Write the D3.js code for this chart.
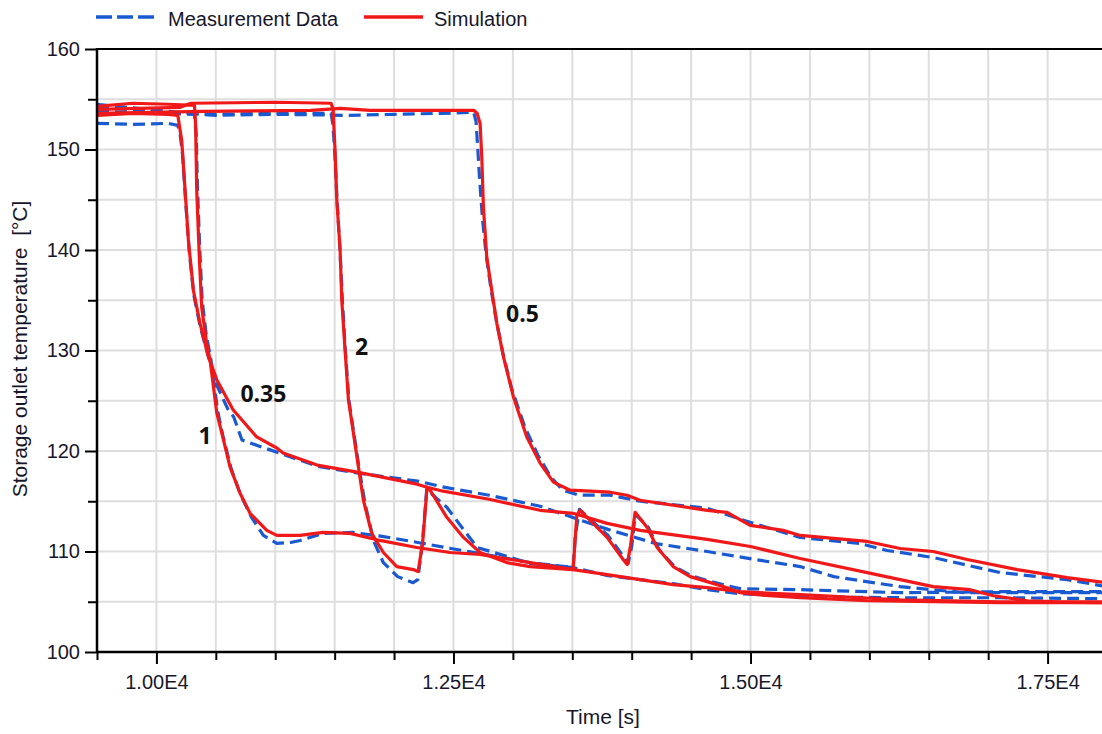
<!DOCTYPE html>
<html>
<head>
<meta charset="utf-8">
<script src="https://cdn.jsdelivr.net/npm/d3@7"></script>
<style>
  html, body { margin: 0; padding: 0; background: #fff; overflow: hidden; }
  svg { display: block; }
</style>
</head>
<body>
<svg id="chart" width="1102" height="734"></svg>
<script>
// ---- Data: [time in s, storage outlet temperature in °C] ----
// Simulation runs, labelled by flow ratio
const sim035 = [[9500,153.4],[9800,153.6],[10100,153.5],[10180,153.4],[10213,150.9],[10241,146.0],[10269,141.0],[10311,136.0],[10367,132.7],[10437,129.4],[10508,127.1],[10645,124.1],[10844,121.4],[11013,120.3],[11066,119.8],[11352,118.6],[11689,117.9],[12194,116.7],[12278,116.4],[12413,116.0],[12800,115.2],[13229,114.1],[13507,113.8],[13793,112.8],[14071,112.1],[14635,111.2],[15000,110.5],[15418,109.3],[15982,107.9],[16537,106.5],[16849,106.2],[17043,105.6],[17329,105.1],[17600,105.0],[18000,105.0]];
const sim1 = [[9500,154.3],[9800,154.6],[10100,154.5],[10320,154.4],[10330,152.5],[10339,146.0],[10361,139.3],[10381,134.3],[10423,130.7],[10451,129.1],[10508,123.8],[10550,121.8],[10620,118.4],[10704,115.8],[10788,113.8],[10929,112.1],[11013,111.6],[11209,111.6],[11402,111.9],[11630,111.8],[11882,111.1],[12191,110.4],[12472,109.9],[12724,109.7],[13145,108.9],[13507,108.2],[13522,110.8],[13538,113.6],[13566,114.1],[13793,111.4],[13928,109.2],[13962,108.7],[13990,110.6],[14029,113.9],[14130,112.4],[14214,110.4],[14349,108.5],[14492,107.5],[14635,107.0],[14803,106.4],[14913,105.9],[15056,105.7],[15418,105.4],[15982,105.1],[17101,104.9],[18000,104.9]];
const sim2 = [[9500,154.0],[10200,154.2],[10290,154.6],[11000,154.7],[11470,154.6],[11487,154.0],[11503,150.0],[11518,145.0],[11546,140.0],[11560,135.0],[11588,130.0],[11616,125.1],[11658,121.8],[11700,118.4],[11742,115.1],[11812,111.8],[11910,109.9],[12023,108.5],[12163,108.2],[12202,108.0],[12240,110.8],[12278,116.4],[12303,116.1],[12444,113.4],[12584,111.4],[12724,109.9],[12949,108.9],[13145,108.5],[13507,108.2],[13793,107.7],[14071,107.2],[14349,106.7],[14635,106.4],[14913,106.0],[15418,105.7],[16260,105.2],[17101,105.0],[18000,104.9]];
const sim05 = [[9500,153.6],[10400,153.8],[11300,153.9],[11550,154.1],[11800,153.9],[12670,153.9],[12699,153.6],[12724,152.6],[12738,149.3],[12752,144.3],[12780,139.3],[12822,136.0],[12865,132.7],[12920,129.4],[13004,125.4],[13117,121.4],[13229,118.8],[13341,116.9],[13482,116.1],[13818,115.9],[13961,115.6],[14071,115.1],[14635,114.1],[14803,113.9],[14997,112.6],[15275,112.1],[15418,111.6],[15982,111.0],[16260,110.3],[16537,110.0],[16824,109.2],[17245,108.2],[17665,107.4],[18000,106.9]];

// Measured runs
const meas035 = [[9500,152.6],[9800,152.5],[10100,152.6],[10180,152.4],[10200,151.5],[10220,149.5],[10245,145.0],[10275,140.0],[10315,135.5],[10370,132.3],[10440,129.3],[10510,126.5],[10600,124.2],[10650,123.4],[10720,121.1],[10860,120.5],[11060,119.7],[11350,118.5],[11700,117.8],[12200,117.0],[12420,116.4],[12800,115.6],[13230,114.5],[13500,113.4],[13800,112.2],[14200,110.8],[14635,110.0],[15040,109.2],[15418,108.5],[15700,107.5],[16260,106.5],[16800,105.9],[17400,105.9],[18000,105.9]];
const meas1 = [[9500,153.8],[10000,153.6],[10320,153.5],[10335,151.5],[10345,146.5],[10365,140.0],[10385,135.0],[10420,131.5],[10460,129.0],[10515,124.0],[10560,121.5],[10630,118.2],[10710,115.6],[10800,113.4],[10900,111.6],[11013,110.8],[11130,110.9],[11209,111.1],[11400,111.8],[11650,111.9],[11900,111.5],[12200,110.9],[12480,110.3],[12724,109.8],[13145,108.9],[13507,108.4],[13525,111.5],[13560,114.2],[13800,111.6],[13930,109.5],[13970,108.8],[14000,110.5],[14030,113.7],[14140,112.4],[14230,110.2],[14360,108.5],[14500,107.6],[14640,107.1],[14800,106.6],[14913,106.3],[15418,106.2],[16260,105.9],[17101,106.0],[18000,106.0]];
const meas2 = [[9500,154.5],[10000,153.9],[10200,153.7],[10500,153.5],[11000,153.6],[11470,153.6],[11485,152.5],[11500,150.0],[11520,145.0],[11545,140.0],[11565,135.0],[11590,130.0],[11620,125.0],[11665,121.5],[11710,118.0],[11755,114.8],[11830,111.0],[11910,108.9],[12030,107.5],[12160,106.9],[12200,107.2],[12240,111.0],[12275,116.2],[12310,115.8],[12444,114.4],[12590,112.1],[12700,110.4],[12840,109.9],[13145,108.8],[13507,108.4],[13800,107.6],[14071,107.2],[14349,106.8],[14635,106.2],[14913,105.8],[15418,105.5],[16260,105.4],[17101,105.4],[18000,105.3]];
const meas05 = [[9500,154.2],[10000,153.8],[10500,153.4],[11000,153.5],[11600,153.4],[12000,153.5],[12400,153.6],[12670,153.7],[12690,152.8],[12705,150.0],[12720,147.0],[12745,143.0],[12775,139.5],[12815,136.2],[12860,133.0],[12915,129.8],[12990,126.2],[13100,122.4],[13210,119.6],[13320,117.4],[13420,116.1],[13560,115.6],[13818,115.6],[14071,115.0],[14400,114.6],[14635,114.3],[14997,112.9],[15418,111.4],[15920,110.8],[16150,110.1],[16537,109.4],[17101,107.9],[17665,107.2],[18000,106.5]];

// Axis ticks
const xTicks = [10000, 12500, 15000, 17500];
const xTickLabels = ["1.00E4", "1.25E4", "1.50E4", "1.75E4"];
const xGrid = [9500,10000,10500,11000,11500,12000,12500,13000,13500,14000,14500,15000,15500,16000,16500,17000,17500,18000];
const yTicks = [100, 110, 120, 130, 140, 150, 160];
const yMinor = [105, 115, 125, 135, 145, 155];

// Curve annotations: [label, time, temperature]
const annotations = [["0.5", 12943, 132.8], ["2", 11672, 129.6], ["0.35", 10707, 124.9], ["1", 10355, 120.7]];

// ---- Layout ----
const svg = d3.select("#chart");
const plotLeft = 97, plotTop = 49, plotBottom = 652, plotRight = 1107;
const textColor = "#17172b";
const red = "#f01818", blue = "#1a5ad0";
const font = "'Liberation Sans', Arial, sans-serif";

const x = d3.scaleLinear().domain([9500, 18000]).range([plotLeft, plotRight]);
const y = d3.scaleLinear().domain([100, 160]).range([plotBottom, plotTop]);

// Grid
const grid = svg.append("g").attr("stroke", "#dedede").attr("stroke-width", 2);
grid.selectAll("line.v").data(xGrid).join("line").attr("class", "v")
  .attr("x1", d => x(d)).attr("x2", d => x(d)).attr("y1", plotTop).attr("y2", plotBottom);
grid.selectAll("line.h").data(yTicks.concat(yMinor)).join("line").attr("class", "h")
  .attr("x1", plotLeft).attr("x2", plotRight).attr("y1", d => y(d)).attr("y2", d => y(d));

// Clip for data lines
svg.append("clipPath").attr("id", "plotClip")
  .append("rect").attr("x", plotLeft).attr("y", plotTop)
  .attr("width", plotRight - plotLeft).attr("height", plotBottom - plotTop);

const line = d3.line().x(d => x(d[0])).y(d => y(d[1]));
const plot = svg.append("g").attr("clip-path", "url(#plotClip)");

[meas035, meas1, meas2, meas05].forEach(s => {
  plot.append("path").datum(s).attr("d", line)
    .attr("fill", "none").attr("stroke", blue).attr("stroke-width", 3.2)
    .attr("stroke-dasharray", "12,6").attr("stroke-linejoin", "round");
});
[sim035, sim1, sim2, sim05].forEach(s => {
  plot.append("path").datum(s).attr("d", line)
    .attr("fill", "none").attr("stroke", red).attr("stroke-width", 3.2)
    .attr("stroke-linejoin", "round");
});

// Axes
function styleAxis(g) {
  g.select(".domain").remove();
  g.selectAll(".tick line").attr("stroke", "#000").attr("stroke-width", 2);
  g.selectAll("text").attr("fill", textColor).attr("font-family", font).attr("font-size", 20);
}
svg.append("g").attr("transform", `translate(${plotLeft},0)`)
  .call(d3.axisLeft(y).tickValues(yTicks).tickSize(12).tickPadding(5).tickFormat(d3.format("d")))
  .call(styleAxis);
svg.append("g").attr("transform", `translate(${plotLeft},0)`)
  .call(d3.axisLeft(y).tickValues(yMinor).tickSize(9).tickFormat(""))
  .call(styleAxis);
svg.append("g").attr("transform", `translate(0,${plotBottom})`)
  .call(d3.axisBottom(x).tickValues(xTicks).tickSize(12).tickPadding(11).tickFormat((d, i) => xTickLabels[i]))
  .call(styleAxis);
svg.append("g").attr("transform", `translate(0,${plotBottom})`)
  .call(d3.axisBottom(x).tickValues(xGrid.filter(v => !xTicks.includes(v))).tickSize(8).tickFormat(""))
  .call(styleAxis);

// Frame lines: left, bottom, top
const frame = svg.append("g").attr("stroke", "#000").attr("stroke-width", 2.5);
frame.append("line").attr("x1", plotLeft).attr("x2", plotLeft).attr("y1", plotTop - 1).attr("y2", plotBottom + 1);
frame.append("line").attr("x1", plotLeft).attr("x2", plotRight).attr("y1", plotBottom).attr("y2", plotBottom);
frame.append("line").attr("x1", plotLeft).attr("x2", plotRight).attr("y1", plotTop).attr("y2", plotTop).attr("stroke-width", 2);

// Axis titles
svg.append("text").attr("transform", "translate(27,349) rotate(-90)")
  .attr("text-anchor", "middle").attr("font-family", font).attr("font-size", 21)
  .attr("fill", textColor).style("white-space", "pre")
  .text("Storage outlet temperature  [°C]");
svg.append("text").attr("x", 603).attr("y", 724)
  .attr("text-anchor", "middle").attr("font-family", font).attr("font-size", 21)
  .attr("fill", textColor).text("Time [s]");

// Legend
const legend = svg.append("g");
legend.append("line").attr("x1", 96).attr("x2", 156).attr("y1", 17).attr("y2", 17)
  .attr("stroke", blue).attr("stroke-width", 3.5).attr("stroke-dasharray", "16,5");
legend.append("text").attr("x", 168).attr("y", 26).attr("font-family", font).attr("font-size", 20)
  .attr("fill", textColor).text("Measurement Data");
legend.append("line").attr("x1", 364).attr("x2", 423).attr("y1", 17).attr("y2", 17)
  .attr("stroke", red).attr("stroke-width", 3.5);
legend.append("text").attr("x", 434).attr("y", 26).attr("font-family", font).attr("font-size", 20)
  .attr("fill", textColor).text("Simulation");

// Curve labels
svg.append("g").selectAll("text").data(annotations).join("text")
  .attr("x", d => x(d[1])).attr("y", d => y(d[2]))
  .attr("font-family", "'Open Sans', 'Noto Sans', sans-serif").attr("font-weight", 700)
  .attr("font-size", 23).attr("fill", "#111").text(d => d[0]);
</script>
</body>
</html>
